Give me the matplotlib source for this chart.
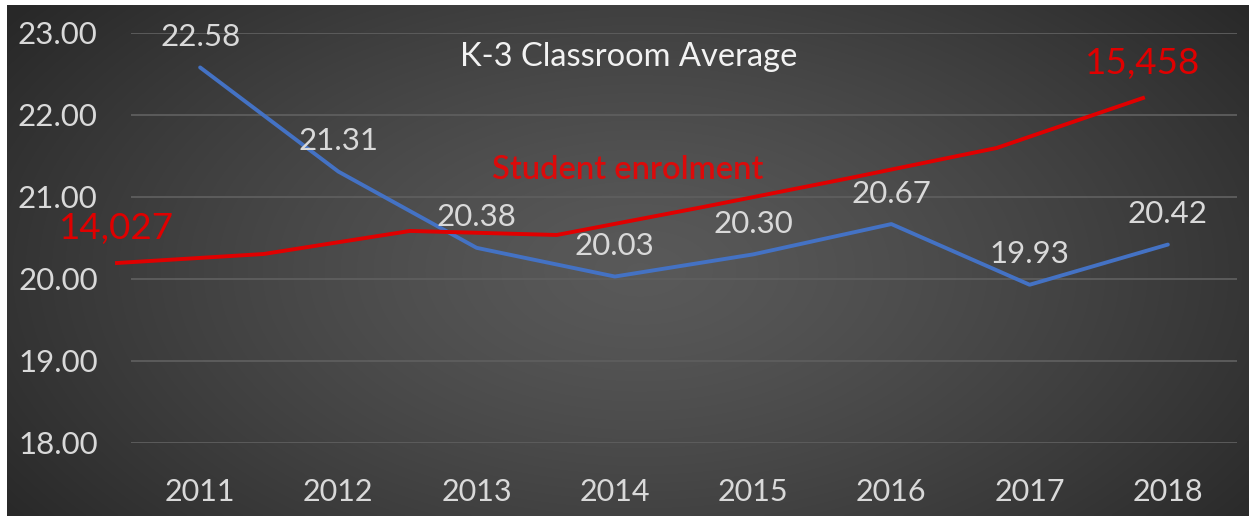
import numpy as np
import matplotlib
matplotlib.use('Agg')
import matplotlib.pyplot as plt

# K-3 classroom average (left axis) and student enrolment (overlaid, own scale)
years = ['2011', '2012', '2013', '2014', '2015', '2016', '2017', '2018']
class_avg = [22.58, 21.31, 20.38, 20.03, 20.30, 20.67, 19.93, 20.42]
enrolment = [14027, 14105, 14305, 14270, 14513, 14764, 15024, 15458]
y_ticks = [18.0, 19.0, 20.0, 21.0, 22.0, 23.0]

plt.rcParams['font.family'] = ['Lato', 'DejaVu Sans']

W, H = 1249, 516
fig = plt.figure(figsize=(W / 100, H / 100), dpi=100, facecolor='white')

# radial gradient background (Excel style), leaving thin white border top/left
bg = fig.add_axes([7 / W, 0, 1 - 7 / W, 511 / H])
gx, gy = np.meshgrid(np.linspace(0, 1, 400), np.linspace(0, 1, 200))
r = np.sqrt(((gx - 0.51) / 0.62) ** 2 + ((gy - 0.52) / 0.85) ** 2)
r = np.clip(r, 0, 1)
shade = 0.35 - (0.35 - 0.16) * r ** 1.3
bg.imshow(np.dstack([shade, shade, shade]), aspect='auto', extent=[0, 1, 0, 1],
          interpolation='bilinear')
bg.axis('off')

# main axes: classroom average
ax = fig.add_axes([131 / W, (H - 443) / H, 1106 / W, 410 / H])
ax.patch.set_alpha(0)
x = np.arange(len(years))
ax.plot(x, class_avg, color='#4472C4', lw=2.8, solid_capstyle='round', zorder=3)
for xi, v in zip(x, class_avg):
    ax.annotate(f'{v:.2f}', (xi, v), xytext=(0, 22), textcoords='offset points',
                ha='center', va='center', fontsize=22.5, color='#D9D9D9', zorder=4)

ax.set_xlim(-0.5, len(years) - 0.5)
ax.set_ylim(18, 23)
ax.set_yticks(y_ticks)
ax.set_yticklabels([f'{t:.2f}' for t in y_ticks])
ax.set_xticks(x)
ax.set_xticklabels(years)
ax.tick_params(axis='y', length=0, pad=24, labelsize=22.5, labelcolor='#D9D9D9')
ax.tick_params(axis='x', length=0, pad=25, labelsize=22, labelcolor='#D9D9D9')
ax.grid(axis='y', color='#5E5E5E', lw=1.3)
ax.set_axisbelow(True)
for s in ax.spines.values():
    s.set_visible(False)

ax.text(0.450, 0.9415, 'K-3 Classroom Average', transform=ax.transAxes,
        ha='center', va='center', fontsize=23.5, color='#F2F2F2')
ax.text(0.449, 0.666, 'Student enrolment', transform=ax.transAxes,
        ha='center', va='center', fontsize=23.5, fontweight='semibold', color='#DC0A0A')

# overlaid enrolment line, positioned on its own scale
ax_r = fig.add_axes([117 / W, (H - 263) / H, 1026 / W, 165 / H])
ax_r.patch.set_alpha(0)
ax_r.plot(x, enrolment, color='#E00000', lw=2.8, clip_on=False)
ax_r.set_xlim(0, len(years) - 1)
ax_r.set_ylim(min(enrolment), max(enrolment))
ax_r.axis('off')
for i in (0, len(years) - 1):
    ax_r.annotate(f'{enrolment[i]:,}', (x[i], enrolment[i]), xytext=(0, 25),
                  textcoords='offset points', ha='center', va='center',
                  fontsize=26.5, color='#E00000', annotation_clip=False)

fig.savefig('out.png', dpi=100, facecolor='white')
